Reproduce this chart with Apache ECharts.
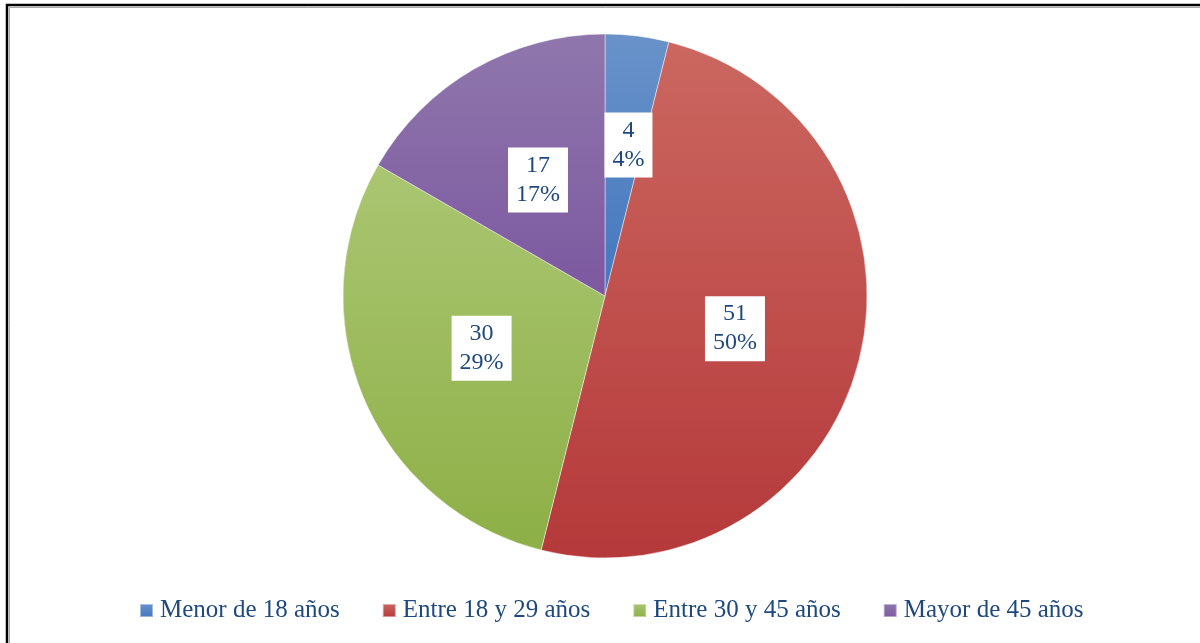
<!DOCTYPE html>
<html>
<head>
<meta charset="utf-8">
<style>
	html, body {
		margin: 0;
		padding: 0;
		width: 100%;
		height: 100%;
		background: #fff;
	}
	#edades {
		width: 1200px;
		height: 643px;
	}
</style>
<script src="https://cdn.jsdelivr.net/npm/echarts@6/dist/echarts.min.js"></script>
</head>
<body>
<div id="edades"></div>
<script>
	// datos del gráfico
	var categorias = ['Menor de 18 años', 'Entre 18 y 29 años', 'Entre 30 y 45 años', 'Mayor de 45 años'];
	var valores = [4, 51, 30, 17];
	var porcentajes = ['4%', '50%', '29%', '17%'];

	// degradados estilo Office (claro arriba, oscuro abajo)
	var coloresArriba = ['#6992C9', '#CB6760', '#AAC672', '#8F77AC'];
	var coloresAbajo = ['#4377BE', '#B5393A', '#8DAF46', '#7C58A0'];

	function degradado(i) {
		return new echarts.graphic.LinearGradient(0, 0, 0, 1, [
			{ offset: 0, color: coloresArriba[i] },
			{ offset: 1, color: coloresAbajo[i] }
		]);
	}

	var datos = [];
	for (var i = 0; i < categorias.length; i++) {
		var item = {
			name: categorias[i],
			value: valores[i],
			itemStyle: { color: degradado(i) }
		};
		// la etiqueta del sector pequeño va algo más afuera
		if (i == 0) {
			item.label = { offset: [7, -18] };
		}
		datos.push(item);
	}

	var chart = echarts.init(document.getElementById('edades'));

	var option = {
		animation: false,
		graphic: [{
			type: 'rect',
			shape: { x: 7, y: 5, width: 1300, height: 800 },
			style: { fill: 'none', stroke: '#000', lineWidth: 2.5 },
			silent: true
		}, {
			type: 'polyline',
			shape: { points: [[9.5, 700], [9.5, 7.5], [1300, 7.5]] },
			style: { stroke: '#aaa', lineWidth: 1, fill: 'none' },
			silent: true
		}],
		legend: {
			data: categorias,
			bottom: 15,
			left: 134,
			itemWidth: 13,
			itemHeight: 13,
			itemGap: 42,
			icon: 'rect',
			textStyle: {
				fontFamily: 'Liberation Serif',
				fontSize: 25,
				color: '#1F497D',
				padding: [0, 0, 0, 2]
			}
		},
		series: [{
			type: 'pie',
			center: [605, 296],
			radius: 262,
			startAngle: 90,
			clockwise: true,
			avoidLabelOverlap: false,
			itemStyle: {
				borderColor: 'rgba(255,255,255,0.45)',
				borderWidth: 1
			},
			label: {
				show: true,
				position: 'inner',
				formatter: function (p) {
					return p.value + '\n' + porcentajes[p.dataIndex];
				},
				fontFamily: 'Liberation Serif',
				fontSize: 24,
				lineHeight: 29,
				color: '#1F497D',
				backgroundColor: '#fff',
				padding: [4, 8, 3, 8],
				align: 'center'
			},
			labelLine: { show: false },
			emphasis: { disabled: true },
			data: datos
		}]
	};

	chart.clear();
	chart.setOption(option);
	window.addEventListener('resize', function () {
		chart.resize();
	});
</script>
</body>
</html>
